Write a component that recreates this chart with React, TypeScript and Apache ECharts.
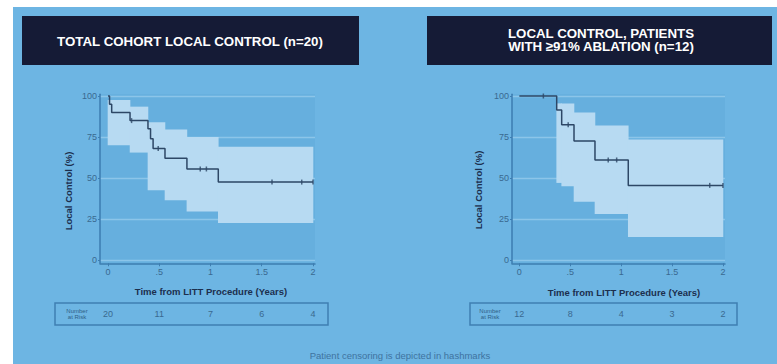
import React, { useEffect, useRef } from "react";
import * as echarts from "echarts";

// ---- data ----
const xTickValues = [0, 0.5, 1, 1.5, 2];
const yTickValues = [0, 25, 50, 75, 100];

const leftKmTime = [0, 0.015, 0.036, 0.215, 0.39, 0.415, 0.44, 0.556, 0.77, 1.076, 2.0];
const leftKmSurv = [100, 95, 90, 85, 80, 74, 68, 62, 55.5, 47.5, 47.5];
const leftCensorTime = [0.23, 0.49, 0.9, 0.96, 1.6, 1.89, 2.0];
const leftCensorSurv = [85, 68, 55.5, 55.5, 47.5, 47.5, 47.5];
const leftBandTime = [0, 0.215, 0.39, 0.556, 0.77, 1.076, 2.0];
const leftBandLower = [70, 65.5, 42.5, 36.5, 29.5, 22.5, 22.5];
const leftBandUpper = [97.5, 93.5, 84, 79.5, 75, 69, 69];
const leftRisk = [20, 11, 7, 6, 4];

const rightKmTime = [0, 0.367, 0.416, 0.537, 0.743, 1.07, 2.0];
const rightKmSurv = [100, 91.5, 82.5, 72.5, 61, 45.5, 45.5];
const rightCensorTime = [0.236, 0.48, 0.873, 0.956, 1.87, 2.0];
const rightCensorSurv = [100, 82.5, 61, 61, 45.5, 45.5];
const rightBandTime = [0.367, 0.416, 0.537, 0.743, 1.07, 2.0];
const rightBandLower = [47, 45, 35.5, 28, 14, 14];
const rightBandUpper = [95.5, 95.5, 90, 82, 73.5, 73.5];
const rightRisk = [12, 8, 4, 3, 2];

const leftTitle = "TOTAL COHORT LOCAL CONTROL (n=20)";
const rightTitle = "LOCAL CONTROL, PATIENTS\nWITH ≥91% ABLATION (n=12)";
const yName = "Local Control (%)";
const xName = "Time from LITT Procedure (Years)";
const riskLabel = "Number\nat Risk";
const footer = "Patient censoring is depicted in hashmarks";

// ---- styles ----
const BG = "#6db5e3";
const PLOT_BG = "#66afde";
const BAND = "#b7daf2";
const GRIDLINE = "#8cc5e9";
const AXIS = "#3d7db0";
const TICKTXT = "#3a6990";
const LINE = "#2d4766";
const NAVY = "#151b36";
const FONT = "'Liberation Sans', Arial, sans-serif";

const zip = (a: number[], b: number[]) => a.map((v, i) => [v, b[i]]);

// band step segments: [tStart, tEnd, lower, upper]
const bandSegments = (t: number[], lo: number[], up: number[]) =>
  t.slice(0, -1).map((v, i) => [v, t[i + 1], lo[i], up[i]]);

function buildPanel(idx: number, kmT: number[], kmS: number[], cT: number[], cS: number[],
  bT: number[], bL: number[], bU: number[]) {
  return [
    {
      type: "line", xAxisIndex: idx, yAxisIndex: idx, z: 1, silent: true,
      data: [], symbol: "none",
      markLine: {
        z: 1, silent: true, symbol: "none", label: { show: false },
        lineStyle: { color: GRIDLINE, width: 1.3, type: "solid" },
        data: yTickValues.map((v) => ({ yAxis: v })),
      },
    },
    {
      type: "custom", xAxisIndex: idx, yAxisIndex: idx, z: 2, silent: true,
      data: bandSegments(bT, bL, bU),
      encode: { x: [0, 1], y: [2, 3] },
      renderItem: (params: any, api: any) => {
        const p0 = api.coord([api.value(0), api.value(3)]);
        const p1 = api.coord([api.value(1), api.value(2)]);
        return {
          type: "rect",
          shape: { x: p0[0] - 0.3, y: p0[1], width: p1[0] - p0[0] + 0.6, height: p1[1] - p0[1] },
          style: { fill: BAND },
        };
      },
    },
    {
      type: "line", xAxisIndex: idx, yAxisIndex: idx, z: 3, step: "end",
      symbol: "none", data: zip(kmT, kmS),
      lineStyle: { color: LINE, width: 1.5 },
    },
    {
      type: "scatter", xAxisIndex: idx, yAxisIndex: idx, z: 4,
      symbol: "rect", symbolSize: [1.5, 5], data: zip(cT, cS),
      itemStyle: { color: LINE },
    },
  ];
}

function xAxisFor(gridIndex: number, min: number, max: number) {
  return {
    type: "value", gridIndex, min, max, z: 5,
    axisLine: { show: true, onZero: false, lineStyle: { color: AXIS, width: 1.5 } },
    axisTick: { show: true, customValues: xTickValues, length: 3, lineStyle: { color: AXIS } },
    axisLabel: {
      customValues: xTickValues, margin: 4, fontSize: 9, color: TICKTXT, fontFamily: FONT,
      formatter: (v: number) => (v > 0 && v < 1 ? String(v).replace(/^0/, "") : String(v)),
    },
    splitLine: { show: false },
  };
}

function yAxisFor(gridIndex: number) {
  return {
    type: "value", gridIndex, min: -2, max: 101, z: 5,
    axisLine: { show: true, onZero: false, lineStyle: { color: AXIS, width: 1.5 } },
    axisTick: { show: true, customValues: yTickValues, length: 2, lineStyle: { color: AXIS } },
    axisLabel: { customValues: yTickValues, margin: 3, fontSize: 9, color: TICKTXT, fontFamily: FONT },
    splitLine: { show: false },
  };
}

function riskAxis(gridIndex: number, min: number, max: number, risk: number[]) {
  return {
    type: "value", gridIndex, min, max,
    axisLine: { show: false, onZero: false }, axisTick: { show: false }, splitLine: { show: false },
    axisLabel: {
      customValues: xTickValues, margin: 0, fontSize: 9, color: TICKTXT, fontFamily: FONT,
      formatter: (v: number) => {
        const i = xTickValues.indexOf(v);
        return i >= 0 ? String(risk[i]) : "";
      },
    },
  };
}

export default function App() {
  const ref = useRef<HTMLDivElement>(null);
  useEffect(() => {
    if (!ref.current) return;
    const chart = echarts.init(ref.current, undefined, { renderer: "svg" });
    const lMin = -0.078, lMax = 2.0195;
    const rMin = -0.072, rMax = 2.02;
    const plotTop = 96 - 1.64;
    const plotH = 103 * 1.64;
    const titleText = (x: number, y: number, text: string) => ({
      type: "text", x, y,
      style: {
        text, fill: "#ffffff", fontSize: 13.3, fontWeight: "bold", fontFamily: FONT,
        align: "center", verticalAlign: "middle", lineHeight: 13.5,
      },
    });
    const nameText = (x: number, y: number, text: string, rot = 0) => ({
      type: "text", x, y, rotation: rot,
      style: {
        text, fill: "#1c2f4e", fontSize: 9.5, fontWeight: "bold", fontFamily: FONT,
        align: "center", verticalAlign: "middle",
      },
    });
    const option: any = {
      animation: false,
      backgroundColor: "#ffffff",
      graphic: {
        elements: [
          { type: "rect", z: -10, shape: { x: 13, y: 7, width: 764, height: 357 }, style: { fill: BG } },
          { type: "rect", z: -9, shape: { x: 22, y: 16, width: 337, height: 49 }, style: { fill: NAVY } },
          { type: "rect", z: -9, shape: { x: 427, y: 16, width: 345, height: 49 }, style: { fill: NAVY } },
          titleText(190, 41, leftTitle),
          titleText(601, 40, rightTitle),
          nameText(68, 191, yName, Math.PI / 2),
          nameText(478, 190, yName, Math.PI / 2),
          nameText(211, 291, xName),
          nameText(624, 292, xName),
          { type: "rect", z: -8, shape: { x: 55, y: 303, width: 273, height: 22 }, style: { fill: "none", stroke: "#3f7fb2", lineWidth: 1.5 } },
          { type: "rect", z: -8, shape: { x: 470, y: 303, width: 267, height: 22 }, style: { fill: "none", stroke: "#3f7fb2", lineWidth: 1.5 } },
          {
            type: "text", x: 77, y: 314,
            style: { text: riskLabel, fill: "#2f5e86", fontSize: 6, lineHeight: 6.5, fontFamily: FONT, align: "center", verticalAlign: "middle" },
          },
          {
            type: "text", x: 490, y: 314,
            style: { text: riskLabel, fill: "#2f5e86", fontSize: 6, lineHeight: 6.5, fontFamily: FONT, align: "center", verticalAlign: "middle" },
          },
          {
            type: "text", x: 400, y: 355,
            style: { text: footer, fill: "#3f73a0", fontSize: 9.5, fontFamily: FONT, align: "center", verticalAlign: "middle" },
          },
        ],
      },
      grid: [
        { left: 100, top: plotTop, width: 215, height: plotH, show: true, backgroundColor: PLOT_BG, borderWidth: 0, z: 0 },
        { left: 512, top: plotTop, width: 213, height: plotH, show: true, backgroundColor: PLOT_BG, borderWidth: 0, z: 0 },
        { left: 100, top: 309, width: 215, height: 0.5, show: false },
        { left: 512, top: 309, width: 213, height: 0.5, show: false },
      ],
      xAxis: [
        xAxisFor(0, lMin, lMax),
        xAxisFor(1, rMin, rMax),
        riskAxis(2, lMin, lMax, leftRisk),
        riskAxis(3, rMin, rMax, rightRisk),
      ],
      yAxis: [
        yAxisFor(0),
        yAxisFor(1),
        { type: "value", gridIndex: 2, show: false, min: 0, max: 1 },
        { type: "value", gridIndex: 3, show: false, min: 0, max: 1 },
      ],
      series: [
        ...buildPanel(0, leftKmTime, leftKmSurv, leftCensorTime, leftCensorSurv, leftBandTime, leftBandLower, leftBandUpper),
        ...buildPanel(1, rightKmTime, rightKmSurv, rightCensorTime, rightCensorSurv, rightBandTime, rightBandLower, rightBandUpper),
      ],
    };
    chart.setOption(option);
    return () => chart.dispose();
  }, []);
  return <div ref={ref} style={{ position: "fixed", left: 0, top: 0, width: 777, height: 364 }} />;
}
